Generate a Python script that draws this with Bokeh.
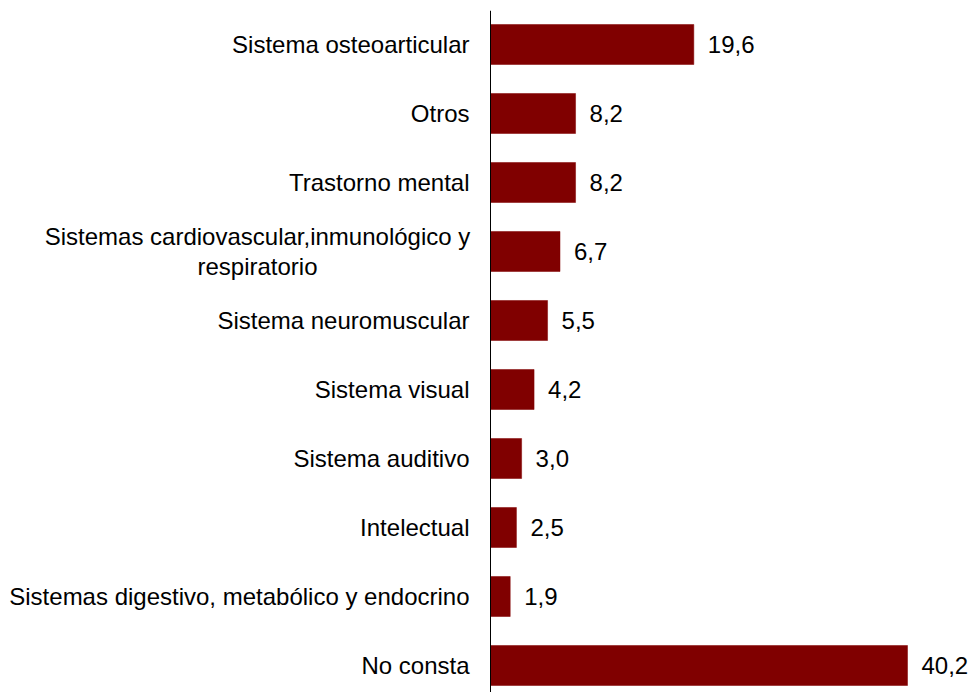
from bokeh.plotting import figure
from bokeh.models import ColumnDataSource, Range1d, Span
from bokeh.embed import file_html
from bokeh.resources import INLINE
from bokeh.core.properties import value

categories = [
    "Sistema osteoarticular",
    "Otros",
    "Trastorno mental",
    "Sistemas cardiovascular,inmunológico y\nrespiratorio",
    "Sistema neuromuscular",
    "Sistema visual",
    "Sistema auditivo",
    "Intelectual",
    "Sistemas digestivo, metabólico y endocrino",
    "No consta",
]
values = [19.6, 8.2, 8.2, 6.7, 5.5, 4.2, 3.0, 2.5, 1.9, 40.2]
value_labels = ["19,6", "8,2", "8,2", "6,7", "5,5", "4,2", "3,0", "2,5", "1,9", "40,2"]

FONT = value("Liberation Sans")
COLOR = "#800000"

W, H = 972, 692
axis_px = 490            # x=0 position in figure pixels
px_per_unit = 417 / 40.2
band = 69.0
first_center = 44.0      # figure pixels from top
top_border = 10

idx = list(range(len(categories)))
single = [i for i in idx if "\n" not in categories[i]]
multi = [i for i in idx if "\n" in categories[i]]

src = ColumnDataSource(dict(y=idx, v=values, lab=value_labels, cat=categories))
src_single = ColumnDataSource(dict(y=[idx[i] for i in single], cat=[categories[i] for i in single]))
src_multi = ColumnDataSource(dict(y=[idx[i] for i in multi], cat=[categories[i] for i in multi]))

frame_h = H - top_border
y_top = -(first_center - top_border) / band
y_bot = y_top + frame_h / band
x_start = -axis_px / px_per_unit
x_end = (W - axis_px) / px_per_unit

p = figure(width=W, height=H, output_backend="svg", toolbar_location=None,
           x_range=Range1d(x_start, x_end), y_range=Range1d(y_bot, y_top),
           x_axis_location=None, y_axis_location=None,
           min_border_left=0, min_border_right=0, min_border_top=top_border,
           min_border_bottom=0)
p.outline_line_color = None
p.xgrid.visible = False
p.ygrid.visible = False
p.background_fill_color = "white"

p.hbar(y="y", left=0, right="v", height=0.58, source=src,
       fill_color=COLOR, line_color=COLOR, line_width=0.5)

p.add_layout(Span(location=0, dimension="height", line_color="black", line_width=1))

p.text(x="v", y="y", text="lab", source=src, x_offset=14,
       text_align="left", text_baseline="middle",
       text_font=FONT, text_font_size="24px", text_color="black")

p.text(x=0, y="y", text="cat", source=src_single, x_offset=-21,
       text_align="right", text_baseline="middle",
       text_font=FONT, text_font_size="24px", text_color="black")

p.text(x=0, y="y", text="cat", source=src_multi, x_offset=-233,
       text_align="center", text_baseline="middle", text_line_height=1.1,
       text_font=FONT, text_font_size="24px", text_color="black")

open("out.html", "w").write(file_html(p, INLINE))
